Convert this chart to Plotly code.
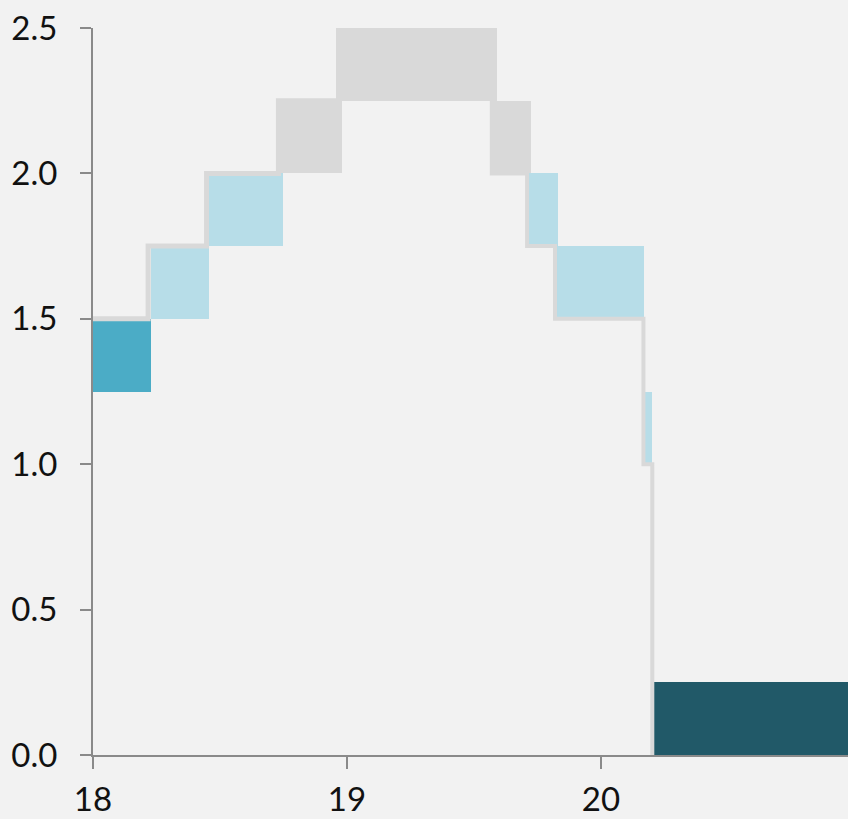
import plotly.graph_objects as go

# Rectangles (cells): x extent, lower y, colour group
cell_x_start = [18.0, 18.228, 18.457, 18.728, 18.957, 19.570, 19.714, 19.820, 20.173, 20.206]
cell_x_end   = [18.228, 18.457, 18.748, 18.980, 19.590, 19.723, 19.830, 20.170, 20.200, 20.980]
cell_y_low   = [1.25, 1.50, 1.75, 2.00, 2.25, 2.00, 1.75, 1.50, 1.00, 0.00]
cell_height  = [0.25] * 10
cell_group   = ["mid", "light", "light", "grey", "grey", "grey", "light", "light", "light", "dark"]

# Step outline (left rising side, right falling side)
step_left_x  = [18.0, 18.217, 18.217, 18.447, 18.447, 18.73, 18.73, 18.96]
step_left_y  = [1.50, 1.50, 1.75, 1.75, 2.00, 2.00, 2.25, 2.25]
step_right_x = [19.57, 19.57, 19.709, 19.709, 19.819, 19.819, 20.167, 20.167, 20.202, 20.202]
step_right_y = [2.25, 2.00, 2.00, 1.75, 1.75, 1.50, 1.50, 1.00, 1.00, 0.00]

x_ticks = [18, 19, 20]
y_ticks = [0.0, 0.5, 1.0, 1.5, 2.0, 2.5]
y_tick_labels = ["0.0", "0.5", "1.0", "1.5", "2.0", "2.5"]

palette = {"mid": "#4BACC6", "light": "#B7DDE8", "grey": "#D9D9D9", "dark": "#215968"}

centers = [(a + b) / 2 for a, b in zip(cell_x_start, cell_x_end)]
widths = [b - a for a, b in zip(cell_x_start, cell_x_end)]
colors = [palette[g] for g in cell_group]

fig = go.Figure()
fig.add_trace(go.Bar(
    x=centers, y=cell_height, base=cell_y_low, width=widths,
    marker=dict(color=colors, line=dict(width=0)),
    hoverinfo="skip", showlegend=False,
))
for sx, sy, w in [(step_left_x, step_left_y, 5), (step_right_x, step_right_y, 4)]:
    fig.add_trace(go.Scatter(
        x=sx, y=sy, mode="lines",
        line=dict(color="#D9D9D9", width=w),
        hoverinfo="skip", showlegend=False,
    ))

fig.update_layout(
    width=848, height=819,
    margin=dict(l=93, r=0, t=28, b=64, autoexpand=False),
    paper_bgcolor="#F2F2F2", plot_bgcolor="#F2F2F2",
    barmode="overlay", bargap=0,
    font=dict(family="Lato", size=33, color="#111111"),
    showlegend=False,
)
fig.update_xaxes(
    range=[18, 18 + 755 / 254], tickvals=x_ticks, ticktext=[str(v) for v in x_ticks],
    showgrid=False, zeroline=False, showline=True, linecolor="#8A8A8A", linewidth=2,
    ticks="outside", ticklen=12, tickwidth=2, tickcolor="#8A8A8A",
    ticklabelstandoff=2, automargin=False,
)
fig.update_yaxes(
    range=[0, 2.5], tickvals=y_ticks, ticktext=y_tick_labels,
    showgrid=False, zeroline=False, showline=True, linecolor="#8A8A8A", linewidth=2,
    ticks="outside", ticklen=11, tickwidth=2, tickcolor="#8A8A8A",
    ticklabelstandoff=16, automargin=False,
)

fig.write_html(
    "out.html",
    config={"displayModeBar": False},
    post_script="document.body.style.margin='0';document.body.style.overflow='hidden';document.body.style.background='#F2F2F2';",
)
